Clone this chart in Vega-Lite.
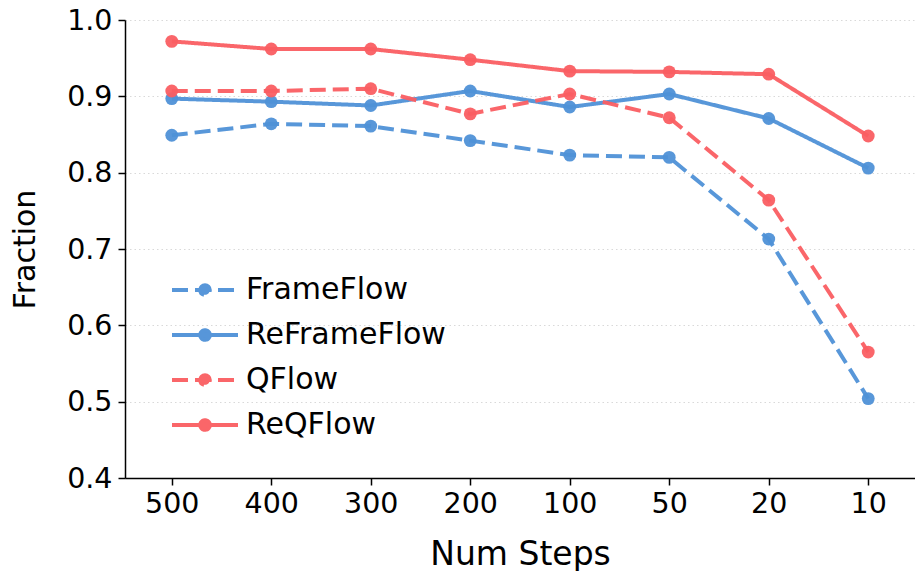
{
  "$schema": "https://vega.github.io/schema/vega-lite/v6.json",
  "width": 790,
  "height": 458,
  "autosize": {"type": "none"},
  "padding": {"left": 125, "top": 20, "right": 0, "bottom": 93},
  "background": "white",
  "config": {
    "font": "DejaVu Sans",
    "view": {"stroke": null},
    "axis": {"domainColor": "black", "domainWidth": 1.5, "tickColor": "black", "tickWidth": 1.5, "tickSize": 7, "labelColor": "black", "titleColor": "black", "labelFont": "DejaVu Sans", "titleFont": "DejaVu Sans", "titleFontWeight": "normal"}
  },
  "data": {"values": [
    {"series": "FrameFlow", "steps": "500", "value": 0.849},
    {"series": "FrameFlow", "steps": "400", "value": 0.864},
    {"series": "FrameFlow", "steps": "300", "value": 0.861},
    {"series": "FrameFlow", "steps": "200", "value": 0.842},
    {"series": "FrameFlow", "steps": "100", "value": 0.823},
    {"series": "FrameFlow", "steps": "50", "value": 0.820},
    {"series": "FrameFlow", "steps": "20", "value": 0.713},
    {"series": "FrameFlow", "steps": "10", "value": 0.504},
    {"series": "ReFrameFlow", "steps": "500", "value": 0.897},
    {"series": "ReFrameFlow", "steps": "400", "value": 0.893},
    {"series": "ReFrameFlow", "steps": "300", "value": 0.888},
    {"series": "ReFrameFlow", "steps": "200", "value": 0.907},
    {"series": "ReFrameFlow", "steps": "100", "value": 0.886},
    {"series": "ReFrameFlow", "steps": "50", "value": 0.903},
    {"series": "ReFrameFlow", "steps": "20", "value": 0.871},
    {"series": "ReFrameFlow", "steps": "10", "value": 0.806},
    {"series": "QFlow", "steps": "500", "value": 0.907},
    {"series": "QFlow", "steps": "400", "value": 0.907},
    {"series": "QFlow", "steps": "300", "value": 0.910},
    {"series": "QFlow", "steps": "200", "value": 0.877},
    {"series": "QFlow", "steps": "100", "value": 0.903},
    {"series": "QFlow", "steps": "50", "value": 0.872},
    {"series": "QFlow", "steps": "20", "value": 0.764},
    {"series": "QFlow", "steps": "10", "value": 0.565},
    {"series": "ReQFlow", "steps": "500", "value": 0.972},
    {"series": "ReQFlow", "steps": "400", "value": 0.962},
    {"series": "ReQFlow", "steps": "300", "value": 0.962},
    {"series": "ReQFlow", "steps": "200", "value": 0.948},
    {"series": "ReQFlow", "steps": "100", "value": 0.933},
    {"series": "ReQFlow", "steps": "50", "value": 0.932},
    {"series": "ReQFlow", "steps": "20", "value": 0.929},
    {"series": "ReQFlow", "steps": "10", "value": 0.848}
  ]},
  "encoding": {
    "x": {"field": "steps", "type": "ordinal", "sort": ["500", "400", "300", "200", "100", "50", "20", "10"],
      "scale": {"type": "point", "padding": 0.47},
      "axis": {"title": "Num Steps", "labelAngle": 0, "labelFontSize": 28.5, "titleFontSize": 33, "labelPadding": 4, "grid": false, "titleY": 76, "titleBaseline": "middle"}},
    "y": {"field": "value", "type": "quantitative",
      "scale": {"domain": [0.4, 1.0], "nice": false, "zero": false},
      "axis": {"title": "Fraction", "values": [0.4, 0.5, 0.6, 0.7, 0.8, 0.9, 1.0], "format": ".1f", "labelFontSize": 28.5, "titleFontSize": 30, "labelPadding": 6, "grid": true, "gridColor": "#d9d9d9", "gridDash": [1.5, 3], "gridWidth": 1, "titleX": -100, "titleBaseline": "middle"}},
    "color": {"field": "series", "type": "nominal",
      "scale": {"domain": ["FrameFlow", "ReFrameFlow", "QFlow", "ReQFlow"], "range": ["#4f91d7", "#4f91d7", "#fa5e62", "#fa5e62"]}}
  },
  "layer": [
    {
      "mark": {"type": "line", "strokeWidth": 4, "opacity": 0.95},
      "encoding": {
        "strokeDash": {"field": "series", "type": "nominal",
          "scale": {"domain": ["FrameFlow", "ReFrameFlow", "QFlow", "ReQFlow"], "range": [[16, 7], [1, 0], [16, 7], [1, 0]]}},
        "color": {"field": "series", "type": "nominal",
          "scale": {"domain": ["FrameFlow", "ReFrameFlow", "QFlow", "ReQFlow"], "range": ["#4f91d7", "#4f91d7", "#fa5e62", "#fa5e62"]},
          "legend": {
            "title": null, "orient": "none", "legendX": 65, "legendY": 255, "padding": 0,
            "labelFontSize": 30, "labelFont": "DejaVu Sans", "labelColor": "black", "labelLimit": 400,
            "symbolType": "M-3.3,0L3.3,0M-0.48,0A0.48,0.48,0,1,1,0.48,0A0.48,0.48,0,1,1,-0.48,0Z",
            "symbolSize": 400, "symbolStrokeWidth": 4, "labelOffset": 26, "rowPadding": 15,
            "encode": {"symbols": {"update": {"fill": {"scale": "color", "field": "value"}, "opacity": {"value": 0.95}}}}
          }}
      }
    },
    {
      "mark": {"type": "point", "filled": true, "size": 165, "opacity": 0.95},
      "encoding": {"color": {"field": "series", "type": "nominal", "legend": null}}
    }
  ]
}
